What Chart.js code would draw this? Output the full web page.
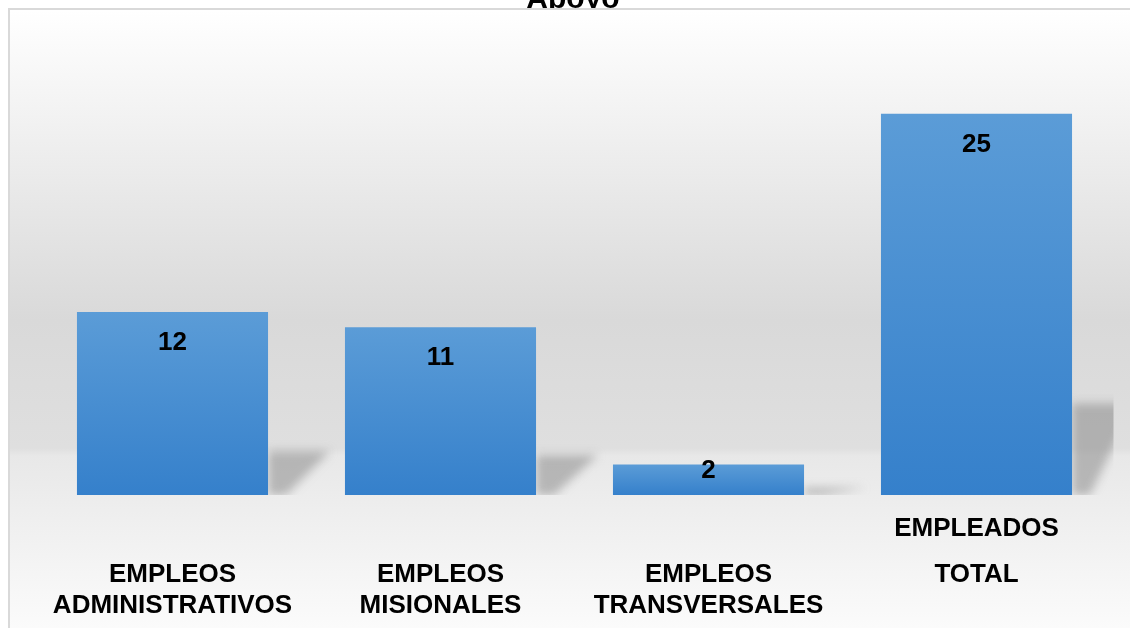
<!DOCTYPE html>
<html>
<head>
<meta charset="UTF-8">
<title>Apoyo</title>
<script src="https://cdn.jsdelivr.net/npm/chart.js"></script>
<style>
  body { margin: 0; background: #fff; }
  canvas { display: block; }
</style>
</head>
<body>
<canvas id="apoyo" width="1130" height="628"></canvas>
<script>
const chartTitle = 'Apoyo';
// blank lines keep the labels at the same vertical slots as the original
const categories = [
  ['', '', '', 'EMPLEOS', '', 'ADMINISTRATIVOS'],
  ['', '', '', 'EMPLEOS', '', 'MISIONALES'],
  ['', '', '', 'EMPLEOS', '', 'TRANSVERSALES'],
  ['EMPLEADOS', '', '', 'TOTAL']
];
const empleos = [12, 11, 2, 25];
const yMax = 28;

const FONT = 'Arial, "Liberation Sans", sans-serif';

// wall / floor background, border and the clipped title
const background = {
  id: 'background',
  beforeDraw(chart) {
    const ctx = chart.ctx, w = chart.width, h = chart.height;
    const floorY = chart.chartArea.bottom - 43;
    const span = h - 10;
    const f = y => Math.min(1, Math.max(0, (y - 10) / span));
    ctx.save();
    ctx.fillStyle = '#fff';
    ctx.fillRect(0, 0, w, h);
    ctx.fillStyle = '#000';
    ctx.font = 'bold 30px ' + FONT;
    ctx.textAlign = 'center';
    ctx.textBaseline = 'alphabetic';
    ctx.fillText(chartTitle, 573, 8);
    const g = ctx.createLinearGradient(0, 10, 0, h);
    g.addColorStop(0, '#ffffff');
    g.addColorStop(f(320), '#d9d9d9');
    g.addColorStop(f(floorY - 4), '#dfdfdf');
    g.addColorStop(f(floorY + 4), '#e8e8e8');
    g.addColorStop(1, '#fbfbfb');
    ctx.fillStyle = g;
    ctx.fillRect(9, 10, w - 9, h - 10);
    ctx.strokeStyle = '#d9d9d9';
    ctx.lineWidth = 2;
    ctx.beginPath();
    ctx.moveTo(9, h);
    ctx.lineTo(9, 9);
    ctx.lineTo(w, 9);
    ctx.stroke();
    ctx.restore();
  }
};

// soft shadows cast to the right of each bar
const barShadows = {
  id: 'barShadows',
  beforeDatasetsDraw(chart) {
    const ctx = chart.ctx, area = chart.chartArea;
    ctx.save();
    ctx.beginPath();
    ctx.rect(area.left, area.top, area.right - area.left + 3, area.bottom - area.top);
    ctx.clip();
    ctx.filter = 'blur(5px)';
    ctx.fillStyle = 'rgba(130,130,130,0.5)';
    chart.getDatasetMeta(0).data.forEach(bar => {
      const r = bar.x + bar.width / 2;
      const b = bar.base;
      const sh = (b - bar.y) * 0.24;
      ctx.beginPath();
      ctx.moveTo(r, b);
      ctx.lineTo(r, b - sh);
      ctx.lineTo(r + 62, b - sh);
      ctx.lineTo(r + 18, b);
      ctx.closePath();
      ctx.fill();
    });
    ctx.restore();
  }
};

// value labels inside the top of each bar
const valueLabels = {
  id: 'valueLabels',
  afterDatasetsDraw(chart) {
    const ctx = chart.ctx;
    const values = chart.data.datasets[0].data;
    ctx.save();
    ctx.fillStyle = '#000';
    ctx.font = 'bold 26px ' + FONT;
    ctx.textAlign = 'center';
    ctx.textBaseline = 'middle';
    chart.getDatasetMeta(0).data.forEach((bar, i) => {
      const hgt = bar.base - bar.y;
      const y = bar.y + (hgt > 60 ? 31 : 6);
      ctx.fillText(String(values[i]), bar.x, y);
    });
    ctx.restore();
  }
};

function barGradient(context) {
  const chart = context.chart;
  if (!chart.chartArea) return '#4a8fd3';
  const y = chart.scales.y;
  const top = y.getPixelForValue(context.raw);
  const base = y.getPixelForValue(0);
  const g = chart.ctx.createLinearGradient(0, top, 0, base);
  g.addColorStop(0, '#5b9cd7');
  g.addColorStop(1, '#3580cb');
  return g;
}

new Chart(document.getElementById('apoyo'), {
  type: 'bar',
  data: {
    labels: categories,
    datasets: [{
      label: chartTitle,
      data: empleos,
      backgroundColor: barGradient,
      borderWidth: 0,
      barPercentage: 0.713,
      categoryPercentage: 1
    }]
  },
  options: {
    responsive: false,
    animation: false,
    layout: { padding: { left: 38.5, right: 19.5, top: 68, bottom: -12 } },
    plugins: {
      legend: { display: false },
      title: { display: false },
      tooltip: { enabled: false }
    },
    scales: {
      x: {
        grid: { display: false, drawTicks: false },
        border: { display: false },
        ticks: {
          color: '#000',
          padding: 26,
          maxRotation: 0,
          autoSkip: false,
          font: { family: FONT, size: 26, weight: 'bold', lineHeight: '15.5px' }
        }
      },
      y: {
        display: false,
        min: 0,
        max: yMax
      }
    }
  },
  plugins: [background, barShadows, valueLabels]
});
</script>
</body>
</html>
